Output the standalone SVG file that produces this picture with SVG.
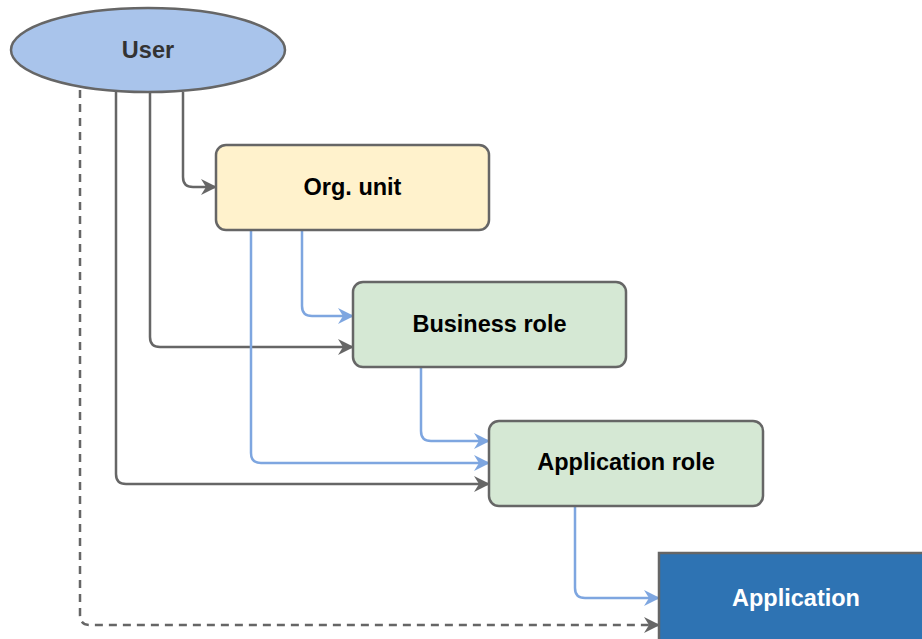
<svg xmlns="http://www.w3.org/2000/svg" width="922" height="639" viewBox="0 0 922 639">
<defs>
<marker id="arrGray" viewBox="0 0 16 16" refX="15" refY="8" markerWidth="16" markerHeight="16" markerUnits="userSpaceOnUse" orient="auto"><path d="M0,0 L16,8 L0,16 L5,8 z" fill="#666666"/></marker>
<marker id="arrBlue" viewBox="0 0 16 16" refX="15" refY="8" markerWidth="16" markerHeight="16" markerUnits="userSpaceOnUse" orient="auto"><path d="M0,0 L16,8 L0,16 L5,8 z" fill="#7ea6e0"/></marker>
<style>
.g{fill:none;stroke:#666666;stroke-width:2.5;marker-end:url(#arrGray)}
.b{fill:none;stroke:#7ea6e0;stroke-width:2.5;marker-end:url(#arrBlue)}
.d{stroke-dasharray:8 6}
.n{stroke:#666666;stroke-width:2.5}
.t{font-family:"Liberation Sans",Arial,sans-serif;font-weight:bold;font-size:23.5px;text-anchor:middle;fill:#000}
</style>
</defs>
<rect width="922" height="639" fill="#ffffff"/>
<g id="connectors">
<path class="g" d="M183,92 V177 Q183,187 193,187 H216"/>
<path class="g" d="M150,92 V337 Q150,347 160,347 H353"/>
<path class="g" d="M116,92 V474 Q116,484 126,484 H489"/>
<path class="g d" d="M80,90 V615 Q80,625 90,625 H659"/>
<path class="b" d="M302,230 V306 Q302,316 312,316 H353"/>
<path class="b" d="M251,230 V453 Q251,463 261,463 H489"/>
<path class="b" d="M421,367 V431 Q421,441 431,441 H489"/>
<path class="b" d="M575,506 V588 Q575,598 585,598 H659"/>
</g>
<g id="user">
<ellipse class="n" cx="148" cy="50" rx="137" ry="42" fill="#a9c4eb"/>
<text class="t" x="148" y="58" style="fill:#333333">User</text>
</g>
<g id="org-unit">
<rect class="n" x="216" y="145" width="273" height="85" rx="10" fill="#fff2cc"/>
<text class="t" x="352.5" y="195">Org. unit</text>
</g>
<g id="business-role">
<rect class="n" x="353" y="282" width="273" height="85" rx="10" fill="#d5e8d4"/>
<text class="t" x="489.5" y="332">Business role</text>
</g>
<g id="application-role">
<rect class="n" x="489" y="421" width="274" height="85" rx="10" fill="#d5e8d4"/>
<text class="t" x="626" y="470">Application role</text>
</g>
<g id="application">
<rect class="n" x="659" y="553" width="274" height="90" fill="#2e73b3"/>
<text class="t" x="796" y="606" style="fill:#ffffff">Application</text>
</g>
</svg>
